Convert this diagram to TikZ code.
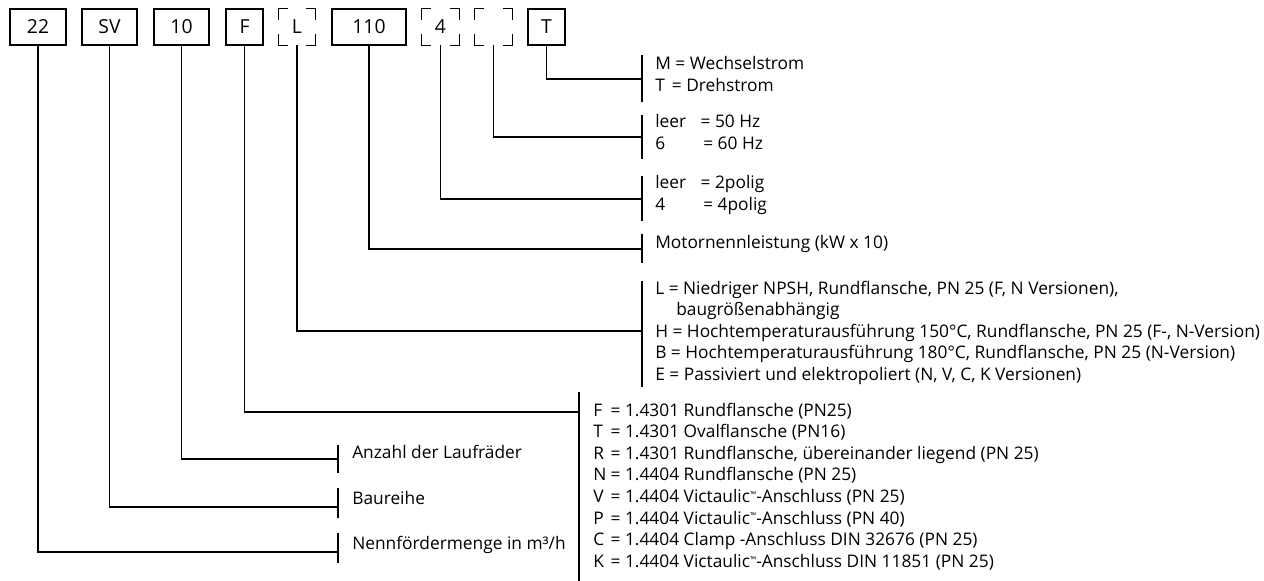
\documentclass[tikz,border=0pt]{standalone}
\usepackage{fontspec}
\setmainfont{Open Sans}
\usetikzlibrary{calc}
\tikzset{
  codebox/.style={draw, line width=0.9pt, minimum height=27pt, inner sep=0pt,
                  font=\fontsize{14.5}{16}\selectfont},
  optbox/.style ={minimum height=27pt, inner sep=0pt,
                  font=\fontsize{14.5}{16}\selectfont},
  lead/.style   ={line width=0.9pt},
  tick/.style   ={line width=0.9pt},
  itm/.style    ={anchor=base west, inner sep=0pt,
                  font=\fontsize{13}{15}\selectfont},
}
\newcommand{\keyof}[2]{\makebox[#1][l]{#2}}
\newcommand{\tm}{\raisebox{0.55ex}{\fontsize{6}{6}\selectfont ™}}

\begin{document}
\begin{tikzpicture}[x=0.75pt, y=-0.75pt]
  \useasboundingbox (0,0) rectangle (1264,581);
  % type code boxes
  \node[codebox, minimum width=42pt]    (b22)  at (38,27)    {22};
  \node[codebox, minimum width=41.25pt] (bSV)  at (109.5,27) {SV};
  \node[codebox, minimum width=41.25pt] (b10)  at (181.5,27) {10};
  \node[codebox, minimum width=27.75pt] (bF)   at (244.5,27) {F};
  \node[optbox,  minimum width=27pt]    (bL)   at (297,27)   {L};
  \node[codebox, minimum width=55.5pt]  (b110) at (369,27)   {110};
  \node[optbox,  minimum width=27.75pt] (b4)   at (440.5,27) {4};
  \node[optbox,  minimum width=27.75pt] (bHz)  at (493.5,27) {};
  \node[codebox, minimum width=27.75pt] (bT)   at (546.5,27) {T};
  % optional fields: corners only
  \foreach \b in {bL,b4,bHz}{
    \draw[lead] ($(\b.north west)+(0,11)$) |- ($(\b.north west)+(9,0)$);
    \draw[lead] ($(\b.north east)+(-9,0)$) -| ($(\b.north east)+(0,11)$);
    \draw[lead] ($(\b.south west)+(0,-11)$) |- ($(\b.south west)+(9,0)$);
    \draw[lead] ($(\b.south east)+(-9,0)$) -| ($(\b.south east)+(0,-11)$);
  }

  % brackets in front of the legends
  \draw[tick] (642,55)  -- (642,102);
  \draw[tick] (642,115) -- (642,159);
  \draw[tick] (642,176) -- (642,221);
  \draw[tick] (642,234) -- (642,263);
  \draw[tick] (642,281) -- (642,387);
  \draw[tick] (579,392) -- (579,581);
  \draw[tick] (338,445) -- (338,473);
  \draw[tick] (338,488) -- (338,518);
  \draw[tick] (338,533) -- (338,563);
  \coordinate (mT)   at (642,79);
  \coordinate (mHz)  at (642,137);
  \coordinate (m4)   at (642,199);
  \coordinate (m110) at (642,249);
  \coordinate (mL)   at (642,331);
  \coordinate (mF)   at (579,412);
  \coordinate (m10)  at (338,459);
  \coordinate (mSV)  at (338,507);
  \coordinate (m22)  at (338,552);
  \foreach \b/\m in {bT/mT,bHz/mHz,b4/m4,b110/m110,bL/mL,bF/mF,b10/m10,bSV/mSV,b22/m22}
    \draw[lead] (\b.south) |- (\m);

  % legends
  \node[itm] (tM) at (655,70)  {M = Wechselstrom};
  \node[itm] (tT) at (655,92)  {\keyof{12.5pt}{T}= Drehstrom};
  \node[itm] (h50) at (655,128) {\keyof{34pt}{leer}= 50 Hz};
  \node[itm] (h60) at (655,150) {\keyof{36pt}{6}= 60 Hz};
  \node[itm] (p2) at (655,189) {\keyof{34pt}{leer}= 2polig};
  \node[itm] (p4) at (655,210) {\keyof{36pt}{4}= 4polig};
  \node[itm] (kw) at (655,248) {Motornennleistung (kW x 10)};
  \node[itm] (vL) at (655,294) {L = Niedriger NPSH, Rundflansche, PN 25 (F, N Versionen),};
  \node[itm] (vL2) at (676,315) {baugrößenabhängig};
  \node[itm] (vH) at (655,337) {H = Hochtemperaturausführung 150°C, Rundflansche, PN 25 (F-, N-Version)};
  \node[itm] (vB) at (655,358) {B = Hochtemperaturausführung 180°C, Rundflansche, PN 25 (N-Version)};
  \node[itm] (vE) at (655,380) {E = Passiviert und elektropoliert (N, V, C, K Versionen)};
  \node[itm] (fF) at (593,416)   {\keyof{13pt}{F}= 1.4301 Rundflansche (PN25)};
  \node[itm] (fT) at (593,437.6) {\keyof{13pt}{T}= 1.4301 Ovalflansche (PN16)};
  \node[itm] (fR) at (593,459.2) {\keyof{13pt}{R}= 1.4301 Rundflansche, übereinander liegend (PN 25)};
  \node[itm] (fN) at (593,480.8) {\keyof{13pt}{N}= 1.4404 Rundflansche (PN 25)};
  \node[itm] (fV) at (593,502.4) {\keyof{13pt}{V}= 1.4404 Victaulic\tm-Anschluss (PN 25)};
  \node[itm] (fP) at (593,524)   {\keyof{13pt}{P}= 1.4404 Victaulic\tm-Anschluss (PN 40)};
  \node[itm] (fC) at (593,545.6) {\keyof{13pt}{C}= 1.4404 Clamp -Anschluss DIN 32676 (PN 25)};
  \node[itm] (fK) at (593,567.2) {\keyof{13pt}{K}= 1.4404 Victaulic\tm-Anschluss DIN 11851 (PN 25)};
  \node[itm] (n10) at (352,458) {Anzahl der Laufräder};
  \node[itm] (nSV) at (352,504) {Baureihe};
  \node[itm] (n22) at (352,549) {Nennfördermenge in m³/h};
\end{tikzpicture}
\end{document}
